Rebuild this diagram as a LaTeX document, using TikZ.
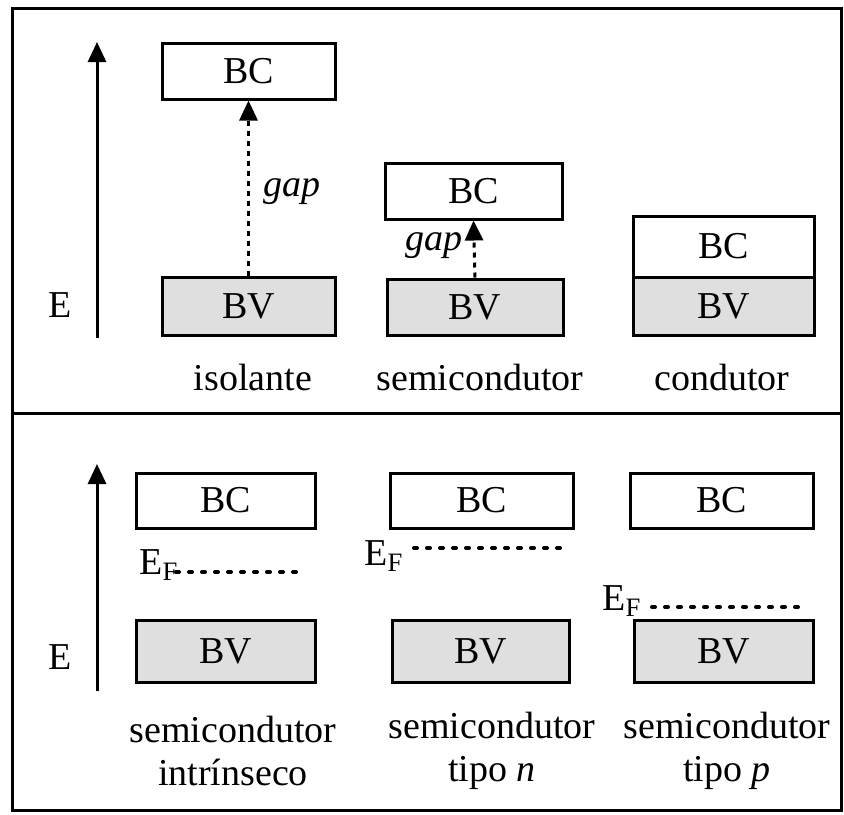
\documentclass[tikz,border=0pt]{standalone}
\usepackage{fontspec}
\setmainfont{Liberation Serif}
\usetikzlibrary{arrows.meta}
\begin{document}
\begin{tikzpicture}[x=0.5pt,y=-0.5pt,
  txt/.style={inner sep=0pt,font=\fontsize{19}{21.5}\selectfont},
  band/.style={draw,line width=1.5pt,inner sep=0pt,font=\fontsize{19}{21.5}\selectfont},
  bcband/.style={band,fill=white},
  bvband/.style={band,fill=gray!25},
  frame/.style={line width=1.5pt},
  eaxis/.style={line width=1.5pt,-{Triangle[length=10pt,width=9pt]}},
  gaparrow/.style={line width=1.5pt,dash pattern=on 2.5pt off 2.5pt,-{Triangle[length=10pt,width=9pt]}},
  fermi/.style={line width=2pt,line cap=round,dash pattern=on 1.5pt off 5pt}
]
\useasboundingbox (0,0) rectangle (844,814);
% frame
\draw[frame] (12,8) rectangle (841,810);
\draw[frame] (12,413) -- (841,413);

% ---------- top panel ----------
\coordinate (a1s) at (97,338);
\coordinate (a1e) at (97,42);
\draw[eaxis] (a1s) -- (a1e);
\node[txt] (E1) at (60,305) {E};

% isolante
\node[bcband,minimum width=86.5pt,minimum height=28pt] (isoBC) at (248.5,71) {BC};
\node[bvband,minimum width=86.5pt,minimum height=29pt] (isoBV) at (248.5,306) {BV};
\draw[gaparrow] (isoBV.north) -- (isoBC.south);
\node[txt,font=\fontsize{19}{21.5}\selectfont\itshape] (gap1) at (292,192) {gap};
\node[txt] (lisol) at (253,377) {isolante};

% semicondutor
\node[bcband,minimum width=88.5pt,minimum height=28pt] (semBC) at (473.5,191) {BC};
\node[bvband,minimum width=88pt,minimum height=28pt] (semBV) at (475,307) {BV};
\draw[gaparrow] (semBV.north) -- (semBC.south);
\node[txt,font=\fontsize{19}{21.5}\selectfont\itshape] (gap2) at (434,246) {gap};
\node[txt] (lsemi) at (480,377) {semicondutor};

% condutor
\node[bcband,minimum width=90.5pt,minimum height=30.5pt] (conBC) at (723.5,246.5) {BC};
\node[bvband,minimum width=90.5pt,minimum height=29pt] (conBV) at (723.5,306) {BV};
\node[txt] (lcond) at (722,377) {condutor};

% ---------- bottom panel ----------
\coordinate (a2s) at (97,691);
\coordinate (a2e) at (97,464);
\draw[eaxis] (a2s) -- (a2e);
\node[txt] (E2) at (60,657) {E};

% intrinseco
\node[bcband,minimum width=89.5pt,minimum height=27.5pt] (intBC) at (225.5,500.5) {BC};
\node[bvband,minimum width=89.5pt,minimum height=31pt] (intBV) at (225.5,651) {BV};
\node[txt] (intEF) at (159,565) {E\textsubscript{F}};
\coordinate (intF1) at (176,572);
\coordinate (intF2) at (304,572);
\draw[fermi] (intF1) -- (intF2);
\node[txt,align=center] (lint) at (233,751) {semicondutor\\intrínseco};

% tipo n
\node[bcband,minimum width=91.5pt,minimum height=27.5pt] (nBC) at (481.5,500.5) {BC};
\node[bvband,minimum width=88.5pt,minimum height=31pt] (nBV) at (480.5,651) {BV};
\node[txt] (nEF) at (384,556) {E\textsubscript{F}};
\coordinate (nF1) at (414,548);
\coordinate (nF2) at (570,548);
\draw[fermi] (nF1) -- (nF2);
\node[txt,align=center] (ln) at (492,751) {semicondutor\\tipo \textit{n}};

% tipo p
\node[bcband,minimum width=91.5pt,minimum height=27.5pt] (pBC) at (721.5,500.5) {BC};
\node[bvband,minimum width=89.5pt,minimum height=31pt] (pBV) at (723.5,651) {BV};
\node[txt] (pEF) at (622,601) {E\textsubscript{F}};
\coordinate (pF1) at (652,607);
\coordinate (pF2) at (807,607);
\draw[fermi] (pF1) -- (pF2);
\node[txt,align=center] (lp) at (727,751) {semicondutor\\tipo \textit{p}};
\end{tikzpicture}
\end{document}
